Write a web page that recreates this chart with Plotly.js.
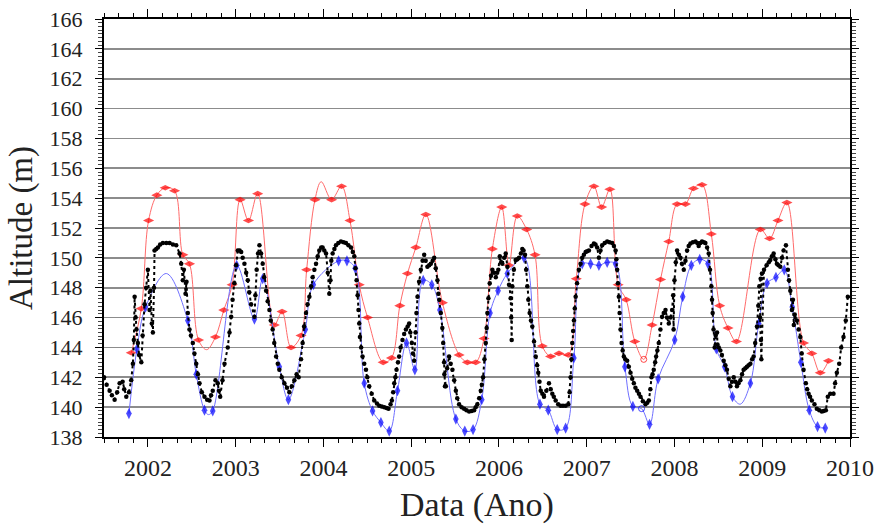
<!DOCTYPE html>
<html>
<head>
<meta charset="utf-8">
<script src="https://cdn.plot.ly/plotly-3.0.1.min.js"></script>
<style>html,body{margin:0;padding:0;background:#fff;}#chart{width:889px;height:524px;}</style>
</head>
<body>
<div id="chart"></div>
<script>
// Black series: observed altitude (year, m)
var blackYear = [2001.50,2001.53,2001.564,2001.59,2001.621,2001.65,2001.678,2001.712,2001.73,2001.754,2001.784,2001.81,2001.829,2001.84,2001.849,2001.86,2001.87,2001.886,2001.90,2001.925,2001.94,2001.962,2001.98,2002.000,2002.019,2002.03,2002.045,2002.057,2002.07,2002.076,2002.095,2002.114,2002.14,2002.171,2002.21,2002.247,2002.285,2002.323,2002.361,2002.380,2002.398,2002.41,2002.429,2002.44,2002.455,2002.474,2002.49,2002.512,2002.53,2002.551,2002.57,2002.588,2002.615,2002.645,2002.675,2002.702,2002.72,2002.739,2002.770,2002.796,2002.81,2002.824,2002.85,2002.873,2002.910,2002.93,2002.949,2002.965,2002.986,2003.005,2003.024,2003.045,2003.063,2003.08,2003.100,2003.12,2003.138,2003.155,2003.176,2003.214,2003.225,2003.240,2003.255,2003.271,2003.29,2003.308,2003.325,2003.347,2003.365,2003.385,2003.40,2003.422,2003.44,2003.461,2003.48,2003.498,2003.525,2003.555,2003.585,2003.612,2003.64,2003.669,2003.695,2003.718,2003.745,2003.763,2003.78,2003.802,2003.82,2003.840,2003.86,2003.877,2003.897,2003.916,2003.935,2003.953,2003.975,2003.991,2004.010,2004.030,2004.05,2004.067,2004.08,2004.09,2004.105,2004.125,2004.143,2004.17,2004.200,2004.23,2004.257,2004.285,2004.314,2004.335,2004.352,2004.365,2004.378,2004.39,2004.400,2004.408,2004.416,2004.43,2004.446,2004.465,2004.485,2004.50,2004.522,2004.55,2004.579,2004.61,2004.636,2004.665,2004.693,2004.72,2004.742,2004.765,2004.780,2004.795,2004.807,2004.82,2004.833,2004.85,2004.863,2004.88,2004.901,2004.92,2004.940,2004.96,2004.977,2004.99,2005.008,2005.02,2005.034,2005.05,2005.06,2005.072,2005.09,2005.110,2005.13,2005.148,2005.165,2005.185,2005.205,2005.224,2005.245,2005.262,2005.28,2005.299,2005.31,2005.32,2005.338,2005.355,2005.365,2005.375,2005.385,2005.395,2005.378,2005.41,2005.432,2005.45,2005.470,2005.49,2005.509,2005.525,2005.546,2005.575,2005.603,2005.63,2005.660,2005.69,2005.717,2005.735,2005.754,2005.775,2005.793,2005.805,2005.819,2005.835,2005.850,2005.860,2005.868,2005.88,2005.895,2005.91,2005.925,2005.945,2005.964,2005.98,2005.993,2006.01,2006.025,2006.039,2006.06,2006.077,2006.096,2006.115,2006.134,2006.14,2006.145,2006.152,2006.17,2006.191,2006.21,2006.229,2006.25,2006.266,2006.28,2006.297,2006.31,2006.323,2006.335,2006.350,2006.365,2006.380,2006.40,2006.419,2006.435,2006.448,2006.462,2006.476,2006.495,2006.513,2006.54,2006.570,2006.59,2006.608,2006.625,2006.646,2006.675,2006.703,2006.73,2006.760,2006.790,2006.805,2006.817,2006.826,2006.835,2006.845,2006.854,2006.864,2006.874,2006.89,2006.911,2006.93,2006.949,2006.968,2006.988,2007.005,2007.025,2007.055,2007.082,2007.10,2007.119,2007.139,2007.157,2007.176,2007.205,2007.233,2007.26,2007.290,2007.31,2007.329,2007.338,2007.347,2007.356,2007.366,2007.375,2007.385,2007.397,2007.41,2007.423,2007.44,2007.461,2007.48,2007.499,2007.518,2007.537,2007.555,2007.575,2007.595,2007.613,2007.64,2007.670,2007.69,2007.708,2007.725,2007.738,2007.750,2007.764,2007.78,2007.791,2007.805,2007.821,2007.84,2007.859,2007.878,2007.898,2007.915,2007.935,2007.955,2007.973,2007.985,2007.99,2008.00,2008.015,2008.030,2008.05,2008.068,2008.085,2008.106,2008.125,2008.144,2008.162,2008.182,2008.21,2008.239,2008.26,2008.276,2008.295,2008.314,2008.335,2008.352,2008.372,2008.390,2008.405,2008.420,2008.428,2008.435,2008.445,2008.458,2008.47,2008.485,2008.49,2008.505,2008.523,2008.54,2008.561,2008.58,2008.598,2008.618,2008.637,2008.655,2008.675,2008.695,2008.712,2008.73,2008.751,2008.77,2008.788,2008.808,2008.826,2008.845,2008.865,2008.885,2008.902,2008.92,2008.940,2008.955,2008.967,2008.982,2008.997,2008.975,2008.985,2008.99,2009.02,2009.05,2009.075,2009.092,2009.11,2009.130,2009.15,2009.167,2009.185,2009.206,2009.225,2009.243,2009.270,2009.292,2009.305,2009.320,2009.338,2009.35,2009.36,2009.37,2009.395,2009.415,2009.434,2009.45,2009.471,2009.497,2009.512,2009.528,2009.545,2009.565,2009.595,2009.622,2009.65,2009.679,2009.70,2009.725,2009.747,2009.775,2009.812,2009.83,2009.850,2009.877,2009.900,2009.926,2009.952,2009.975];
var blackAlt = [142.0,141.5,141.1,140.8,140.5,141.0,141.6,141.7,141.2,140.7,141.0,141.8,142.9,144.5,147.4,146.0,145.2,144.3,143.5,143.0,144.8,146.9,148.0,149.2,146.5,147.8,145.6,145.0,148.0,150.5,150.6,150.7,150.9,151.0,151.0,151.0,150.9,150.85,150.3,149.6,148.5,149.2,147.6,148.4,146.3,145.2,144.8,144.3,143.6,142.9,142.2,141.6,141.0,140.7,140.5,140.45,140.8,141.1,141.8,141.6,141.1,140.7,141.8,142.9,144.0,145.0,146.05,147.2,148.3,149.5,150.5,150.5,150.4,150.0,149.6,149.0,148.5,147.7,146.9,146.05,147.5,149.2,150.3,150.85,150.3,149.6,148.7,147.8,147.1,146.5,145.8,145.2,144.3,143.4,142.9,142.5,142.0,141.6,141.3,141.0,141.4,141.8,142.2,142.0,143.2,144.3,145.4,146.3,146.9,147.4,148.1,148.7,149.2,149.6,150.1,150.5,150.7,150.7,150.5,150.3,149.0,147.6,148.5,149.8,150.3,150.6,150.85,151.0,151.1,151.05,151.0,150.85,150.7,150.4,150.1,149.3,148.5,147.5,146.5,145.6,144.7,144.0,143.4,142.9,142.5,142.0,141.4,140.9,140.45,140.25,140.1,140.05,140.0,139.95,139.9,140.2,140.45,141.0,141.6,142.0,142.5,143.0,143.4,144.0,144.5,144.9,145.2,145.4,145.6,145.0,144.3,143.6,143.1,145.0,146.3,147.4,148.4,149.2,149.8,150.2,149.8,149.4,149.5,149.6,149.8,150.0,149.3,148.5,147.6,147.2,146.3,145.3,144.3,143.0,141.4,141.4,142.2,142.6,143.4,142.9,142.5,141.8,141.1,140.6,140.2,140.0,139.9,139.8,139.7,139.75,139.8,140.0,140.2,140.6,141.1,141.5,142.0,143.2,144.3,145.3,146.3,147.3,148.3,148.8,149.2,149.0,148.7,149.0,149.2,150.1,149.7,149.6,150.0,150.3,149.4,148.2,147.3,146.0,144.5,148.1,149.2,149.85,149.9,150.0,150.3,150.6,150.5,150.2,149.2,148.1,147.2,146.3,145.8,145.4,144.4,143.4,142.8,142.3,141.7,141.1,140.9,140.7,141.1,141.6,141.2,140.9,140.7,140.45,140.2,140.1,140.1,140.1,140.2,141.0,142.0,143.2,144.3,145.1,145.8,146.6,147.4,148.3,149.2,149.6,150.0,150.2,150.4,150.45,150.5,150.8,150.97,150.9,150.7,150.0,150.5,150.85,151.0,151.1,151.05,151.0,150.8,150.5,149.9,149.2,148.3,147.4,146.3,145.2,144.3,143.8,143.4,143.2,143.1,142.7,142.3,141.9,141.6,141.3,141.1,140.9,140.7,140.4,140.2,140.3,140.45,141.2,142.0,142.2,142.5,143.0,143.4,143.8,144.3,145.2,146.05,146.3,146.5,146.0,145.6,146.0,146.5,147.5,145.2,148.5,149.7,150.5,150.2,150.0,149.6,149.2,149.8,150.5,150.8,150.97,151.05,151.1,151.0,150.8,151.0,151.1,151.05,151.0,150.7,150.3,149.2,148.1,147.2,146.3,145.2,144.0,144.8,145.0,144.2,144.0,143.8,143.5,143.1,142.8,142.5,141.9,141.4,141.7,142.0,141.7,141.4,141.6,141.8,142.2,142.5,142.6,142.7,142.8,142.9,143.2,143.4,144.3,145.4,146.8,148.1,148.6,148.95,146.0,144.5,143.2,149.2,149.5,149.7,149.85,150.1,150.3,149.9,149.6,149.5,149.4,150.0,150.5,150.85,149.2,148.5,147.8,146.5,147.2,145.5,146.2,145.8,145.2,144.7,143.6,142.5,141.6,141.2,140.9,140.7,140.45,140.2,139.9,139.8,139.7,139.75,139.8,140.7,140.9,140.9,141.6,142.3,142.9,144.0,144.7,145.8,147.4];

// Red series: maximum envelope (year, m); redMark 1 = marker drawn, 2 = open marker, 0 = curve point only
var redYear = [2001.811,2001.925,2002.008,2002.102,2002.198,2002.304,2002.398,2002.474,2002.577,2002.67,2002.770,2002.865,2002.960,2003.051,2003.146,2003.251,2003.441,2003.529,2003.631,2003.745,2003.809,2003.904,2003.975,2004.093,2004.207,2004.303,2004.408,2004.503,2004.681,2004.776,2004.871,2004.958,2005.053,2005.167,2005.356,2005.546,2005.640,2005.736,2005.830,2005.925,2006.032,2006.115,2006.209,2006.316,2006.411,2006.494,2006.589,2006.684,2006.790,2006.881,2006.980,2007.082,2007.170,2007.264,2007.358,2007.449,2007.548,2007.650,2007.745,2007.841,2007.935,2008.030,2008.125,2008.216,2008.314,2008.420,2008.515,2008.610,2008.706,2008.978,2009.084,2009.179,2009.281,2009.471,2009.565,2009.661,2009.755];
var redAlt = [143.64,146.6,152.5,154.2,154.7,154.5,150.2,149.6,144.5,143.85,144.7,146.5,148.2,153.9,152.5,154.3,145.5,146.4,144.0,144.8,149.2,153.9,155.1,153.9,154.8,152.5,148.2,146.0,143.0,143.3,146.8,148.95,150.7,152.9,147.0,143.5,143.0,143.0,144.6,150.6,153.4,149.5,152.8,151.9,150.2,144.1,143.4,143.6,143.5,148.6,153.6,154.8,153.4,154.6,148.2,147.2,144.4,143.2,145.5,148.55,151.1,153.6,153.6,154.65,154.9,151.6,146.8,145.3,144.4,151.9,151.3,152.5,153.7,144.3,143.6,142.3,143.1];
var redMark = [1,1,1,1,1,1,1,1,1,0,1,1,1,1,1,1,1,1,1,1,1,1,0,1,1,1,1,1,1,1,1,1,1,1,1,1,1,1,1,1,1,1,1,1,1,1,1,1,1,1,1,1,1,1,1,1,1,2,1,1,1,1,1,1,1,1,1,1,1,1,1,1,1,1,1,1,1];

// Blue series: minimum envelope (year, m)
var blueYear = [2001.784,2001.875,2001.974,2002.21,2002.455,2002.551,2002.645,2002.69,2002.739,2003.012,2003.214,2003.308,2003.498,2003.601,2003.794,2003.885,2004.173,2004.268,2004.363,2004.465,2004.560,2004.655,2004.750,2004.844,2004.947,2005.042,2005.137,2005.235,2005.327,2005.509,2005.611,2005.705,2005.804,2005.899,2005.990,2006.096,2006.286,2006.467,2006.562,2006.664,2006.760,2006.854,2006.949,2007.044,2007.139,2007.233,2007.329,2007.435,2007.526,2007.625,2007.716,2007.814,2008.003,2008.094,2008.192,2008.288,2008.382,2008.477,2008.572,2008.661,2008.75,2008.865,2008.960,2009.055,2009.156,2009.251,2009.342,2009.440,2009.536,2009.630,2009.718];
var blueAlt = [139.57,143.9,146.7,148.95,145.8,142.2,139.8,139.5,139.75,149.5,145.9,148.6,142.7,140.5,145.2,148.2,149.8,149.8,149.3,141.6,139.75,138.97,138.4,141.1,144.3,142.5,148.5,148.2,146.5,139.2,138.4,138.5,140.5,146.3,147.8,148.95,150.0,140.2,139.8,138.5,138.6,143.3,149.6,149.6,149.5,149.7,149.6,142.7,140.05,139.9,138.85,141.9,144.5,147.4,149.5,149.9,149.6,143.9,142.7,140.7,140.2,141.6,145.6,148.3,148.7,149.2,146.7,143.0,139.8,138.7,138.6];
var blueMark = [1,1,1,0,1,1,1,0,1,1,1,1,1,1,1,1,1,1,1,1,1,1,1,1,1,1,1,1,1,1,1,1,1,1,1,1,1,1,1,1,1,1,1,1,1,1,1,1,1,2,1,1,1,1,1,1,1,1,1,1,0,1,1,1,1,1,1,1,1,1,1];

var yearTicks = [2002,2003,2004,2005,2006,2007,2008,2009,2010];
var altTicks = [138,140,142,144,146,148,150,152,154,156,158,160,162,164,166];

function markSizes(m, s){ return m.map(function(v){ return v === 0 ? 0 : (v === 2 ? 6 : s); }); }
function markSymbols(m, sym){ return m.map(function(v){ return v === 2 ? 'circle-open' : sym; }); }

var serif = 'Liberation Serif';

var traces = [
  {
    x: redYear, y: redAlt, type: 'scatter', mode: 'lines+markers',
    line: {color: '#ff6a6a', width: 1, shape: 'spline', smoothing: 1},
    marker: {color: '#ff0000', size: markSizes(redMark, 8), symbol: markSymbols(redMark, 'diamond-wide'), line: {width: 0, color: '#ff0000'}},
    hoverinfo: 'x+y', showlegend: false
  },
  {
    x: blueYear, y: blueAlt, type: 'scatter', mode: 'lines+markers',
    line: {color: '#6f6fff', width: 1, shape: 'spline', smoothing: 1},
    marker: {color: '#0000ff', size: markSizes(blueMark, 8), symbol: markSymbols(blueMark, 'diamond-tall'), line: {width: 0, color: '#0000ff'}},
    hoverinfo: 'x+y', showlegend: false
  },
  {
    x: blackYear, y: blackAlt, type: 'scatter', mode: 'lines+markers',
    line: {color: '#000000', width: 2, dash: 'dot'},
    marker: {color: '#000000', size: 4.5},
    hoverinfo: 'x+y', showlegend: false
  }
];

var layout = {
  width: 889, height: 524,
  margin: {l: 104, r: 39, t: 19, b: 87},
  paper_bgcolor: '#ffffff', plot_bgcolor: '#ffffff',
  font: {family: serif, size: 22, color: '#222222'},
  showlegend: false,
  xaxis: {
    range: [2001.5, 2010], tickmode: 'array', tickvals: yearTicks, ticktext: yearTicks.map(String),
    ticks: 'outside', ticklen: 8, tickwidth: 1, tickcolor: '#000',
    minor: {dtick: 1/6, tick0: 2002, ticks: 'outside', ticklen: 4, tickwidth: 1, tickcolor: '#000', showgrid: false},
    showline: true, linecolor: '#000', linewidth: 2, mirror: 'ticks',
    showgrid: false, zeroline: false,
    tickfont: {family: serif, size: 24},
    title: {text: 'Data (Ano)', font: {family: serif, size: 34}, standoff: 14},
    automargin: false
  },
  yaxis: {
    range: [138, 166], tickvals: altTicks,
    ticks: 'outside', ticklen: 7, tickwidth: 1, tickcolor: '#000',
    minor: {dtick: 0.25, tick0: 138, ticks: 'outside', ticklen: 4, tickwidth: 1, tickcolor: '#444', showgrid: false},
    showline: true, linecolor: '#000', linewidth: 2, mirror: 'ticks',
    showgrid: true, gridcolor: '#8c8c8c', gridwidth: 1.8, zeroline: false,
    tickfont: {family: serif, size: 22},
    ticklabelstandoff: 8,
    title: {text: 'Altitude (m)', font: {family: serif, size: 33}, standoff: 7},
    automargin: false
  }
};

Plotly.newPlot('chart', traces, layout, {displayModeBar: false, staticPlot: true});
</script>
</body>
</html>
